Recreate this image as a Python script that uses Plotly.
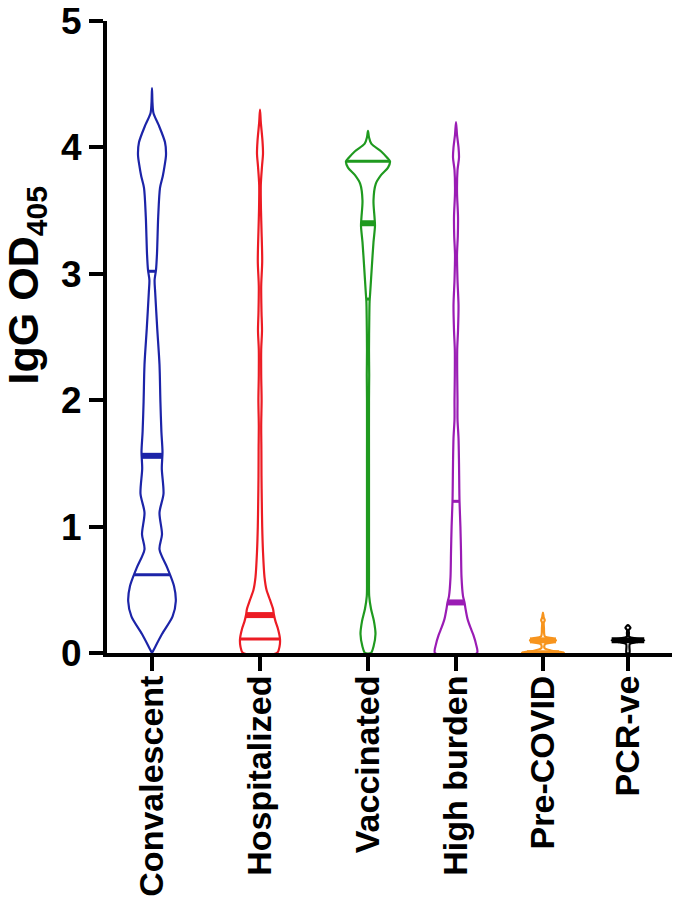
import numpy as np
import plotly.graph_objects as go

# ---------------- data ----------------
categories = ["Convalescent", "Hospitalized", "Vaccinated", "High burden", "Pre-COVID", "PCR-ve"]

# violin profiles: IgG OD405 level and relative density (half-width)
conv_level = [4.47, 4.35, 4.27, 4.18, 4.04, 3.94, 3.85, 3.77, 3.68, 3.45, 3.16, 3.03, 2.95, 2.85, 2.57,
              2.28, 1.99, 1.75, 1.59, 1.46, 1.26, 1.11, 0.94, 0.82, 0.67, 0.53, 0.41, 0.29, 0.15, 0.03, 0.0]
conv_dens = [0.0, 0.5, 1.5, 6.5, 13.0, 14.0, 12.5, 10.7, 8.0, 6.2, 5.0, 4.0, 2.6, 3.2, 5.2,
             7.5, 8.4, 9.4, 10.5, 9.8, 11.5, 7.5, 10.0, 7.5, 15.5, 22.0, 23.8, 20.6, 10.0, 2.0, 0.0]

hosp_level = [4.30, 4.20, 4.05, 3.95, 3.85, 3.70, 3.50, 3.35, 3.10, 2.90, 2.70, 2.55, 2.40, 2.20, 2.00,
              1.80, 1.60, 1.40, 1.20, 1.00, 0.80, 0.60, 0.50, 0.42, 0.35, 0.30, 0.25, 0.19, 0.11, 0.05, 0.0]
hosp_dens = [0.0, 0.8, 2.5, 3.0, 2.0, 0.8, 1.0, 1.5, 2.2, 1.2, 1.5, 2.0, 1.2, 1.2, 1.6,
             1.2, 1.4, 1.5, 1.8, 2.2, 3.0, 4.5, 6.5, 10.0, 13.0, 14.0, 15.5, 18.0, 20.0, 19.5, 17.0]

vacc_level = [4.13, 4.08, 4.03, 3.97, 3.92, 3.89, 3.84, 3.78, 3.71, 3.58, 3.45, 3.38, 3.25, 3.05, 2.85,
              2.78, 2.65, 2.40, 2.20, 2.00, 1.50, 1.00, 0.60, 0.45, 0.35, 0.25, 0.15, 0.05, 0.0]
vacc_dens = [0.0, 1.0, 3.3, 13.0, 19.0, 22.0, 20.0, 13.0, 7.7, 5.5, 6.5, 7.0, 5.5, 3.8, 2.2,
             1.6, 1.3, 1.0, 1.2, 1.0, 1.0, 1.0, 1.0, 1.2, 3.0, 6.0, 7.5, 5.5, 3.0]

high_level = [4.20, 4.10, 4.00, 3.92, 3.82, 3.65, 3.45, 3.30, 3.15, 2.95, 2.75, 2.55, 2.40, 2.20, 2.00,
              1.85, 1.70, 1.50, 1.30, 1.20, 1.00, 0.80, 0.60, 0.45, 0.40, 0.35, 0.27, 0.20, 0.14, 0.07, 0.0]
high_dens = [0.0, 1.0, 2.5, 3.0, 1.5, 1.0, 2.0, 1.8, 1.0, 1.5, 2.5, 2.0, 1.2, 1.2, 1.5,
             1.5, 2.5, 3.0, 3.3, 3.5, 4.4, 5.0, 5.5, 7.0, 8.5, 9.5, 11.5, 14.5, 17.5, 20.0, 21.0]

prec_level = [0.32, 0.28, 0.26, 0.24, 0.20, 0.13, 0.115, 0.10, 0.085, 0.07, 0.04, 0.02, 0.005, 0.0]
prec_dens = [0.0, 0.8, 1.8, 0.8, 1.0, 2.0, 10.0, 13.0, 10.0, 2.0, 1.5, 8.0, 20.0, 21.0]

pcr_level = [0.22, 0.20, 0.18, 0.16, 0.13, 0.115, 0.10, 0.085, 0.07, 0.0]
pcr_dens = [0.0, 2.5, 0.8, 1.0, 1.2, 8.0, 16.3, 8.0, 1.8, 1.5]

levels = [conv_level, hosp_level, vacc_level, high_level, prec_level, pcr_level]
densities = [conv_dens, hosp_dens, vacc_dens, high_dens, prec_dens, pcr_dens]

medians = [1.56, 0.30, 3.40, 0.40, 0.10, 0.10]
quartiles = [[0.62, 3.02], [0.11], [2.80, 3.89], [1.20], [0.01], []]

y_ticks = [0, 1, 2, 3, 4, 5]

# ---------------- layout / styles ----------------
colors = ["#1c24a8", "#ec1c24", "#1f9a1f", "#9a1cb4", "#f7941d", "#000000"]
x_pos = [0.0, 1.0, 2.0, 2.815, 3.62, 4.407]
dens_scale = 1.0 / 108.0   # density unit -> x-axis units
FONT = "Liberation Sans, Arial, sans-serif"

fig = go.Figure()
for i, cat in enumerate(categories):
    lv = np.array(levels[i], dtype=float)
    dn = np.array(densities[i], dtype=float) * dens_scale
    c = x_pos[i]
    xs = np.concatenate([c + dn, (c - dn)[::-1]])
    ys = np.concatenate([lv, lv[::-1]])
    fig.add_trace(go.Scatter(x=xs, y=ys, mode="lines",
                             line=dict(color=colors[i], width=2.2, shape="spline", smoothing=0.8),
                             cliponaxis=False, showlegend=False, name=cat, hoverinfo="skip"))
    order = np.argsort(lv)
    lv_s, dn_s = lv[order], dn[order]
    for q, w in [(medians[i], 6)] + [(qq, 3) for qq in quartiles[i]]:
        hw = float(np.interp(q, lv_s, dn_s))
        fig.add_trace(go.Scatter(x=[c - hw, c + hw], y=[q, q], mode="lines",
                                 line=dict(color=colors[i], width=w),
                                 cliponaxis=False, showlegend=False, hoverinfo="skip"))

fig.update_layout(
    template="none",
    width=677, height=897,
    margin=dict(l=107, r=5, t=21, b=244, autoexpand=False),
    paper_bgcolor="white", plot_bgcolor="white",
    font=dict(family=FONT, color="black"),
    xaxis=dict(range=[-0.4167, 4.815], tickvals=x_pos, ticktext=categories, tickangle=-90,
               showline=True, linecolor="black", linewidth=4, ticks="outside", ticklen=14,
               tickwidth=4, tickcolor="black", showgrid=False, zeroline=False, automargin=False,
               ticklabelstandoff=-9,
               tickfont=dict(family=FONT, size=34, color="black", weight="bold")),
    yaxis=dict(range=[0, 5], tickvals=y_ticks, showline=True, linecolor="black", linewidth=4,
               ticks="outside", ticklen=14, tickwidth=4, tickcolor="black", showgrid=False,
               zeroline=False, automargin=False, ticklabeloverflow="allow",
               tickfont=dict(family=FONT, size=37, color="black", weight="bold")),
    annotations=[dict(text="IgG OD<sub>405</sub>", xref="paper", yref="paper",
                      x=-0.143, y=0.582, xanchor="center", yanchor="middle", textangle=-90,
                      showarrow=False, font=dict(family=FONT, size=43, color="black", weight="bold"))],
)

fig.write_html("out.html", post_script="document.body.style.margin='0';",
               config={"displayModeBar": False})
